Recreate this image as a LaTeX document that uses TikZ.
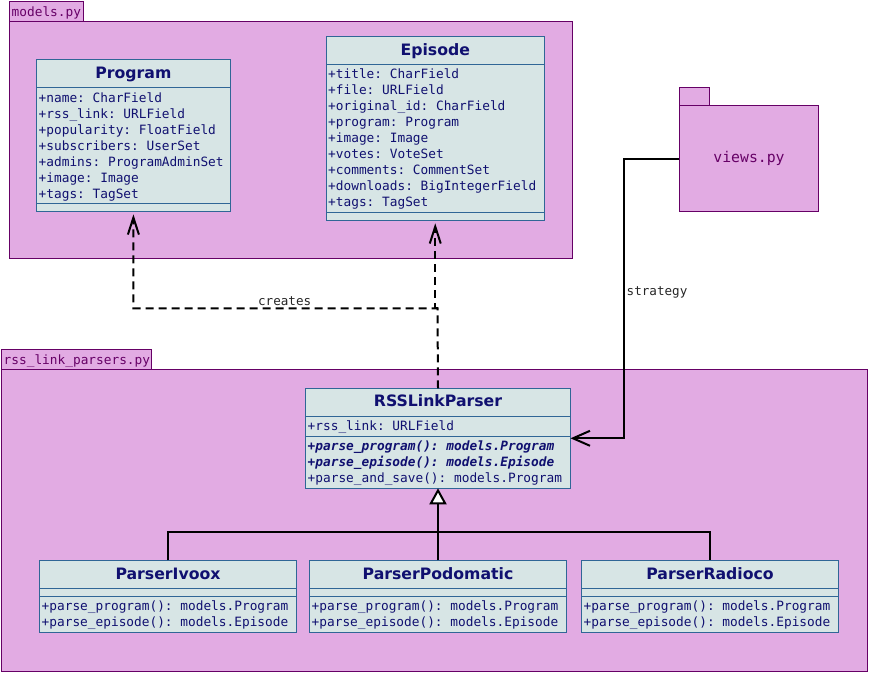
\documentclass[tikz,border=0pt]{standalone}
\usepackage{fontspec}
\setsansfont{DejaVu Sans}
\setmonofont{DejaVu Sans Mono}
\usetikzlibrary{arrows.meta}
\definecolor{pkgfill}{RGB}{226,171,227}
\definecolor{pkgline}{RGB}{102,0,102}
\definecolor{clsfill}{RGB}{215,229,229}
\definecolor{clsline}{RGB}{48,102,150}
\definecolor{clstext}{RGB}{16,16,112}

\begin{document}
\begin{tikzpicture}[x=1pt,y=-1pt,
  pkg/.style={draw=pkgline,fill=pkgfill,line width=0.9pt},
  pkglabel/.style={text=pkgline,font=\ttfamily\fontsize{12.8}{15}\selectfont,anchor=base west,inner sep=0pt},
  cls/.style={draw=clsline,fill=clsfill,line width=0.9pt,inner sep=0pt,outer sep=0pt},
  clsname/.style={text=clstext,font=\sffamily\bfseries\fontsize{15.7}{18}\selectfont,anchor=base,inner sep=0pt},
  member/.style={text=clstext,font=\ttfamily\fontsize{12.8}{16}\selectfont,anchor=base west,inner sep=0pt},
  abstractop/.style={member,font=\ttfamily\bfseries\itshape\fontsize{12.8}{16}\selectfont},
  clssep/.style={draw=clsline,line width=0.9pt},
  dep/.style={line width=2pt,dash pattern=on 8pt off 5pt,shorten >=3pt,-{Straight Barb[length=17pt,width=11pt]}},
  assoc/.style={line width=2pt,-{Straight Barb[length=17pt,width=15pt]}},
  gen/.style={line width=2pt,-{Triangle[length=16pt,width=17pt,fill=white]}},
  lbl/.style={text=black!85,font=\ttfamily\fontsize{12.6}{15}\selectfont,inner sep=0pt}]
  \useasboundingbox (0,0) rectangle (869,674);

  % packages
  \draw[pkg] (9.5,1.5) rectangle (83.5,21);
  \draw[pkg] (9.5,21) rectangle (572.5,258.5);
  \node[pkglabel] (models-lbl) at (11.5,16.5) {models.py};
  \draw[pkg] (1.5,349.5) rectangle (151.5,369.5);
  \draw[pkg] (1.5,369.5) rectangle (867.5,671.5);
  \node[pkglabel] (parsers-lbl) at (3.5,364.5) {rss\_link\_parsers.py};
  \draw[pkg] (679.5,87.5) rectangle (709.5,105.5);
  \node[pkg,minimum width=139pt,minimum height=106pt,inner sep=0pt,text=pkgline,
        font=\ttfamily\fontsize{14.8}{17}\selectfont] (views) at (749,158.5) {views.py};

  % models
  \node[cls,minimum width=193.8pt,minimum height=151.8pt] (program) at (133.4,135.4) {};
  \node[clsname] (program-name) at (133.4,79) {Program};
  \draw[clssep] (36.5,87.7) -- (230.3,87.7);
  \draw[clssep] (36.5,203.3) -- (230.3,203.3);
  \foreach \m [count=\i] in {+name: CharField, +rss\_link: URLField, +popularity: FloatField,
      +subscribers: UserSet, +admins: ProgramAdminSet, +image: Image, +tags: TagSet}
    \node[member] (program-\i) at (38.5,86.7+16*\i) {\m};

  \node[cls,minimum width=218.5pt,minimum height=184pt] (episode) at (435.25,128.3) {};
  \node[clsname] (episode-name) at (435.25,56) {Episode};
  \draw[clssep] (326,64.3) -- (544.5,64.3);
  \draw[clssep] (326,212.3) -- (544.5,212.3);
  \foreach \m [count=\i] in {+title: CharField, +file: URLField, +original\_id: CharField,
      +program: Program, +image: Image, +votes: VoteSet, +comments: CommentSet,
      +downloads: BigIntegerField, +tags: TagSet}
    \node[member] (episode-\i) at (328,62.3+16*\i) {\m};

  % parsers
  \node[cls,minimum width=265pt,minimum height=100pt] (rssparser) at (438,438.3) {};
  \node[clsname] (rssparser-name) at (438,406.7) {RSSLinkParser};
  \draw[clssep] (305.5,416.3) -- (570.5,416.3);
  \draw[clssep] (305.5,436.7) -- (570.5,436.7);
  \node[member] (rssparser-1) at (307.5,430.7) {+rss\_link: URLField};
  \node[abstractop] (rssparser-2) at (307.5,450.3) {+parse\_program(): models.Program};
  \node[abstractop] (rssparser-3) at (307.5,466.3) {+parse\_episode(): models.Episode};
  \node[member] (rssparser-4) at (307.5,482.3) {+parse\_and\_save(): models.Program};

  \foreach \c/\n/\x in {ivoox/ParserIvoox/168, podomatic/ParserPodomatic/438, radioco/ParserRadioco/710} {
    \node[cls,minimum width=257pt,minimum height=72pt] (\c) at (\x,596.3) {};
    \node[clsname] (\c-name) at (\x,579) {\n};
    \draw[clssep] (\x-128.5,588.3) -- (\x+128.5,588.3);
    \draw[clssep] (\x-128.5,596.3) -- (\x+128.5,596.3);
    \node[member] (\c-1) at (\x-126.5,610) {+parse\_program(): models.Program};
    \node[member] (\c-2) at (\x-126.5,626) {+parse\_episode(): models.Episode};
  }

  % connectors
  \coordinate (fork) at (437.5,308.3);
  \draw[dep] (rssparser.north) -- (fork) -| (program.south);
  \draw[dep] (fork) -| (episode.south);
  \node[lbl,anchor=base] (creates) at (284.7,305.7) {creates};

  \draw[assoc] (views.west) -- ++(-55.5,0) |- (rssparser.east);
  \node[lbl,anchor=base west] (strategy) at (626.5,295) {strategy};

  \draw[gen] (podomatic.north) -- (rssparser.south);
  \draw[line width=2pt] (ivoox.north) -- ++(0,-28) -| (radioco.north);
\end{tikzpicture}
\end{document}
